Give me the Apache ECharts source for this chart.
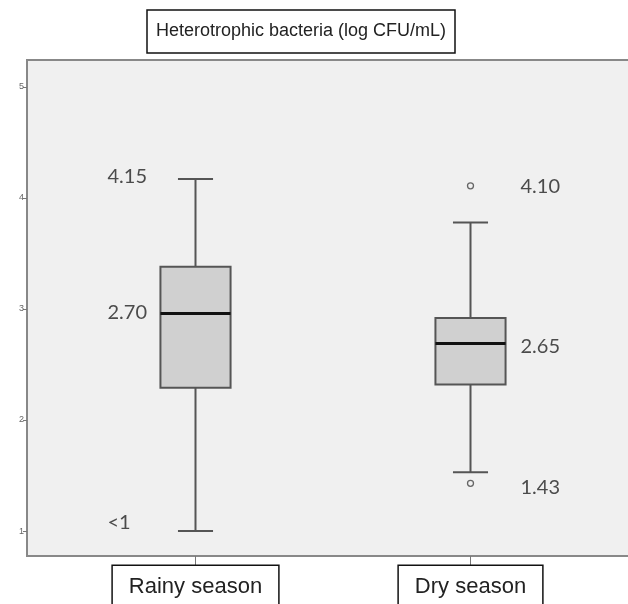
<!DOCTYPE html>
<html>
<head>
<meta charset="utf-8">
<script src="https://cdn.jsdelivr.net/npm/echarts@6/dist/echarts.min.js"></script>
<style>
  html, body { margin: 0; padding: 0; background: #fff; }
  #chart { width: 628px; height: 604px; }
</style>
</head>
<body>
<div id="chart"></div>
<script>
// categories and box statistics (log CFU/mL)
var seasons = ['Rainy season', 'Dry season'];
var lows = [1.00, 1.53];
var q1s = [2.29, 2.32];
var medians = [2.96, 2.69];
var q3s = [3.38, 2.92];
var highs = [4.17, 3.78];
// outliers: [category index, value]
var outliers = [[1, 4.11], [1, 1.43]];
// annotation texts: [category index, value, text]
var rainyNotes = [[0, 4.19, '4.15'], [0, 2.97, '2.70'], [0, 1.08, '<1']];
var dryNotes = [[1, 4.10, '4.10'], [1, 2.66, '2.65'], [1, 1.39, '1.43']];
var yTicks = [1, 2, 3, 4, 5];

var boxData = seasons.map(function (s, i) {
  return [i, lows[i], q1s[i], medians[i], q3s[i], highs[i]];
});

var dom = document.getElementById('chart');
var chart = echarts.init(dom);

var lineCol = '#555';

var option = {
  animation: false,
  backgroundColor: '#fff',
  title: {
    text: 'Heterotrophic bacteria (log CFU/mL)',
    left: 147,
    top: 10,
    padding: [12, 9, 13, 9],
    borderColor: '#111',
    borderWidth: 1.5,
    backgroundColor: '#fff',
    textStyle: {
      fontFamily: 'Liberation Sans',
      fontSize: 18,
      fontWeight: 'normal',
      color: '#222'
    }
  },
  graphic: [{
    type: 'rect',
    z: 0,
    shape: { x: 27, y: 60, width: 640, height: 496 },
    style: { fill: '#f0f0f0', stroke: '#888', lineWidth: 2 }
  }],
  grid: {
    left: 58,
    right: 20,
    top: 60,
    bottom: 48,
    outerBoundsMode: 'none',
    containLabel: false
  },
  xAxis: {
    type: 'category',
    data: seasons,
    axisLine: { show: false },
    axisTick: {
      show: true,
      alignWithLabel: true,
      length: 10,
      lineStyle: { color: '#777', width: 1 }
    },
    axisLabel: {
      margin: 10,
      fontFamily: 'Liberation Sans',
      fontSize: 22,
      color: '#222',
      backgroundColor: '#fff',
      borderColor: '#111',
      borderWidth: 1.5,
      padding: [10, 16, 16, 16]
    },
    splitLine: { show: false }
  },
  yAxis: {
    type: 'value',
    min: 0.775,
    max: 5.243,
    offset: 31,
    axisLine: { show: false },
    axisTick: {
      show: true,
      length: 4,
      customValues: yTicks,
      lineStyle: { color: '#777' }
    },
    axisLabel: {
      customValues: yTicks,
      margin: 3,
      fontFamily: 'Liberation Sans',
      fontSize: 9,
      color: '#666'
    },
    splitLine: { show: false }
  },
  series: [{
    type: 'custom',
    z: 3,
    data: boxData,
    renderItem: function (params, api) {
      var x = api.value(0);
      var low = api.coord([x, api.value(1)]);
      var q1 = api.coord([x, api.value(2)]);
      var med = api.coord([x, api.value(3)]);
      var q3 = api.coord([x, api.value(4)]);
      var high = api.coord([x, api.value(5)]);
      var bw = api.size([1, 0])[0] * 0.255;
      var cx = low[0];
      var ln = { stroke: lineCol, lineWidth: 2 };
      return {
        type: 'group',
        children: [
          { type: 'line', shape: { x1: cx, y1: high[1], x2: cx, y2: q3[1] }, style: ln },
          { type: 'line', shape: { x1: cx, y1: q1[1], x2: cx, y2: low[1] }, style: ln },
          { type: 'line', shape: { x1: cx - bw / 4, y1: high[1], x2: cx + bw / 4, y2: high[1] }, style: ln },
          { type: 'line', shape: { x1: cx - bw / 4, y1: low[1], x2: cx + bw / 4, y2: low[1] }, style: ln },
          {
            type: 'rect',
            shape: { x: cx - bw / 2, y: q3[1], width: bw, height: q1[1] - q3[1] },
            style: { fill: '#d0d0d0', stroke: lineCol, lineWidth: 2 }
          },
          {
            type: 'line',
            shape: { x1: cx - bw / 2, y1: med[1], x2: cx + bw / 2, y2: med[1] },
            style: { stroke: '#111', lineWidth: 3 }
          }
        ]
      };
    }
  }, {
    type: 'scatter',
    z: 4,
    data: outliers,
    symbol: 'circle',
    symbolSize: 6,
    itemStyle: { color: '#f0f0f0', borderColor: '#444', borderWidth: 1.3 }
  }, {
    type: 'scatter',
    z: 4,
    data: rainyNotes,
    symbolSize: 0,
    label: {
      show: true,
      position: 'inside',
      align: 'left',
      offset: [-88, 0],
      formatter: function (p) { return p.value[2]; },
      fontFamily: 'Lato',
      fontSize: 20,
      color: '#222'
    }
  }, {
    type: 'scatter',
    z: 4,
    data: dryNotes,
    symbolSize: 0,
    label: {
      show: true,
      position: 'inside',
      align: 'left',
      offset: [50, 0],
      formatter: function (p) { return p.value[2]; },
      fontFamily: 'Lato',
      fontSize: 20,
      color: '#222'
    }
  }]
};

chart.clear();
chart.resize();
chart.setOption(option);
</script>
</body>
</html>
